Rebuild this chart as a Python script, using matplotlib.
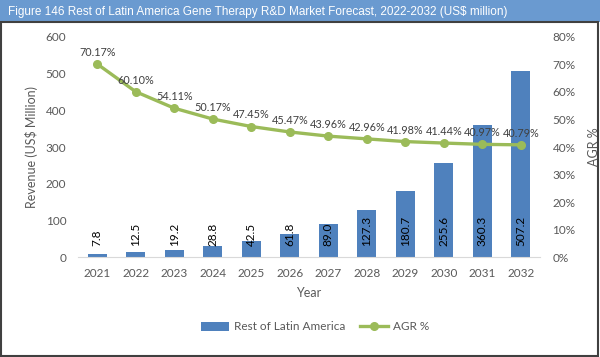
import matplotlib
matplotlib.use("Agg")
import matplotlib.pyplot as plt
from matplotlib.lines import Line2D
from matplotlib.patches import Patch, Rectangle
import numpy as np

years = ["2021", "2022", "2023", "2024", "2025", "2026",
         "2027", "2028", "2029", "2030", "2031", "2032"]
revenue = [7.8, 12.5, 19.2, 28.8, 42.5, 61.8, 89.0, 127.3, 180.7, 255.6, 360.3, 507.2]
agr = [70.17, 60.10, 54.11, 50.17, 47.45, 45.47, 43.96, 42.96, 41.98, 41.44, 40.97, 40.79]

title = "Figure 146 Rest of Latin America Gene Therapy R&D Market Forecast, 2022-2032 (US$ million)"
bar_color = "#4F81BD"
line_color = "#9BBB59"
grey = "#595959"

plt.rcParams["font.family"] = ["Lato", "DejaVu Sans"]

fig = plt.figure(figsize=(6.0, 3.57), dpi=100)

# title banner + outer frame
fig.patches.append(Rectangle((0, 1 - 22 / 357), 1, 22 / 357, transform=fig.transFigure,
                             facecolor="#6A9AD0", edgecolor="none", zorder=0))
fig.patches.append(Rectangle((0.002, 0.004), 0.995, 1 - 22 / 357 - 0.004,
                             transform=fig.transFigure, facecolor="none",
                             edgecolor="#404040", linewidth=1.5, zorder=1))
fig.text(0.013, 1 - 12 / 357, title, color="white", fontsize=8.5,
         family="Liberation Sans", va="center", ha="left")

ax = fig.add_axes([0.13, 0.28, 0.77, 0.6164])
x = np.arange(len(years))
ax.bar(x, revenue, width=0.5, color=bar_color, zorder=2)
for xi, v in zip(x, revenue):
    ax.text(xi, 30, f"{v:.1f}", rotation=90, ha="center", va="bottom",
            fontsize=8.5, color="black", zorder=5)

ax.set_xlim(-0.5, len(years) - 0.5)
ax.set_ylim(0, 600)
ax.set_yticks(range(0, 601, 100))
ax.set_xticks(x)
ax.set_xticklabels(years)
ax.tick_params(length=0, colors=grey, labelsize=8.5)
ax.tick_params(axis="y", pad=8.5)
ax.tick_params(axis="x", pad=8)
for s in ["top", "left", "right"]:
    ax.spines[s].set_visible(False)
ax.spines["bottom"].set_color("#D9D9D9")
ax.set_xlabel("Year", color=grey, fontsize=9, labelpad=6)
ax.set_ylabel("Revenue (US$ Million)", color=grey, fontsize=9)
ax.yaxis.set_label_coords(-0.087, 0.5)

ax2 = ax.twinx()
ax2.plot(x, agr, color=line_color, linewidth=2.4, marker="o", markersize=5.5, zorder=3)
for xi, v in zip(x, agr):
    ax2.text(xi, v + 2.2, f"{v:.2f}%", ha="center", va="bottom", fontsize=7.8,
             color="#404040", zorder=6)
ax2.set_ylim(0, 80)
ax2.set_yticks(range(0, 81, 10))
ax2.set_yticklabels([f"{t}%" for t in range(0, 81, 10)])
ax2.tick_params(length=0, colors=grey, labelsize=8.5, pad=9)
for s in ["top", "left", "right", "bottom"]:
    ax2.spines[s].set_visible(False)
ax2.set_ylabel("AGR %", color=grey, fontsize=9)
ax2.yaxis.set_label_coords(1.104, 0.5)

handles = [Patch(facecolor=bar_color, label="Rest of Latin America"),
           Line2D([0], [0], color=line_color, linewidth=2.4, marker="o",
                  markersize=5.5, label="AGR %")]
leg = fig.legend(handles=handles, loc="center", bbox_to_anchor=(0.525, 1 - 327 / 357),
                 ncol=2, frameon=False, fontsize=8.5, columnspacing=1.2,
                 handlelength=2.4, handletextpad=0.4)
for t in leg.get_texts():
    t.set_color(grey)

fig.savefig("out.png", dpi=100)
